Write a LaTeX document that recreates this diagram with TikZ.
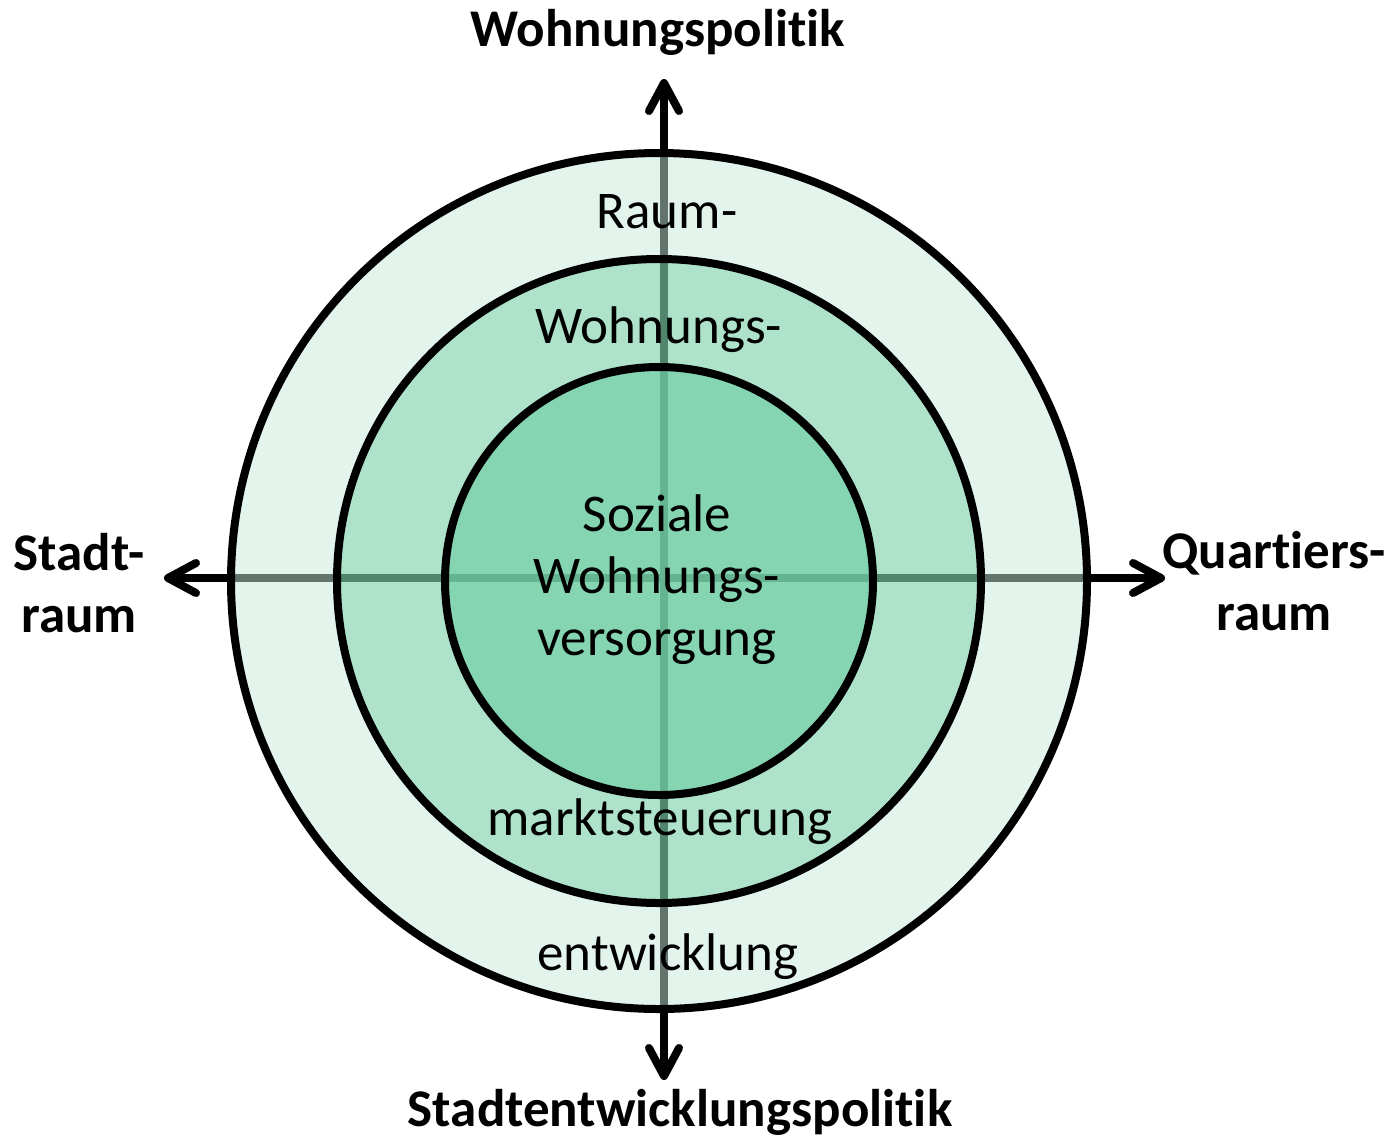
\documentclass[tikz,border=0pt]{standalone}
\usepackage{fontspec}
\setmainfont{Carlito}[RawFeature={-liga;-clig;-dlig;-calt}]
\usetikzlibrary{arrows.meta}

\definecolor{ringout}{RGB}{199,233,217}
\definecolor{ringmid}{RGB}{38,180,118}
\definecolor{ringin}{RGB}{112,206,165}

\begin{document}
\begin{tikzpicture}[
            x=0.5pt, y=-0.5pt,
            axis/.style={line width=4pt, -{Straight Barb[round,length=14pt,width=15pt]}},
            ring/.style={draw=black, line width=4pt},
            lbl/.style={font=\fontsize{26.5}{31}\selectfont, align=center, anchor=base},
            head/.style={lbl, font=\fontsize{26.5}{31}\selectfont\bfseries},
            ]
            \useasboundingbox (0,0) rectangle (1396,1141);
            \def\Rout{428}
            \def\Rmid{322}
            \def\Rin{214}
            
            \coordinate (O) at (659,581);
            \coordinate (X) at (664,578);
            \coordinate (N) at (664,79);
            \coordinate (S) at (664,1080);
            \coordinate (W) at (164,578);
            \coordinate (E) at (1165,578);
            
            \foreach \t in {N,S,W,E}
                \draw[axis] (X) -- (\t);
            
            \fill[ringout, fill opacity=0.5] (O) circle (\Rout);
            \fill[ringmid, fill opacity=0.28] (O) circle (\Rmid);
            \fill[ringin, fill opacity=0.65] (O) circle (\Rin);
            \draw[ring] (O) circle (\Rout);
            \draw[ring] (O) circle (\Rmid);
            \draw[ring] (O) circle (\Rin);
            
            \node[head] (top) at (658,46) {Wohnungspolitik};
            \node[head] (bottom) at (680,1126) {Stadtentwicklungspolitik};
            \node[head] (left) at (79,632) {Stadt-\\raum};
            \node[head] (right) at (1274,630) {Quartiers-\\raum};
            
            \node[lbl] (raum) at (667,228) {Raum-};
            \node[lbl] (wohn) at (659,343) {Wohnungs-};
            \node[lbl] (core) at (657,655) {Soziale\\Wohnungs-\\versorgung};
            \node[lbl] (markt) at (660,835) {marktsteuerung};
            \node[lbl] (entw) at (668,970) {entwicklung};
        \end{tikzpicture}
\end{document}
